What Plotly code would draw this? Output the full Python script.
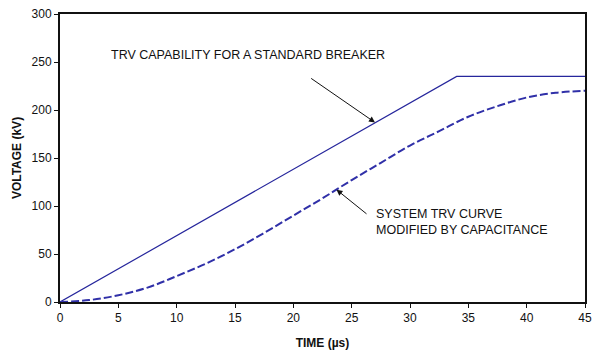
import plotly.graph_objects as go

# Breaker TRV capability envelope (two-parameter: ramp then plateau)
cap_time = [0, 34, 45]
cap_voltage = [0, 235, 235]

# System TRV curve modified by capacitance
sys_time = [0, 2.5, 5, 7.5, 10, 12.5, 15, 17.5, 20, 22.5, 25, 27.5, 30, 32.5, 35, 37.5, 40, 42.5, 45]
sys_voltage = [0, 2, 7, 15, 27, 40, 55, 72, 90, 108, 127, 145, 163, 178, 193, 204, 213, 218, 220]

x_ticks = [0, 5, 10, 15, 20, 25, 30, 35, 40, 45]
y_ticks = [0, 50, 100, 150, 200, 250, 300]

line_color = "#26269C"
font = "Liberation Sans, Arial, sans-serif"

fig = go.Figure()
fig.add_trace(go.Scatter(x=cap_time, y=cap_voltage, mode="lines",
                         line=dict(color=line_color, width=1.2), showlegend=False))
fig.add_trace(go.Scatter(x=sys_time, y=sys_voltage, mode="lines", line_shape="spline",
                         line=dict(color="#3030A8", width=2, dash="8px,3px"), showlegend=False))

fig.add_annotation(x=4.2, y=257, text="TRV CAPABILITY FOR A STANDARD BREAKER",
                   showarrow=False, xanchor="left", yanchor="middle",
                   font=dict(family=font, size=12.5, color="#111"))
fig.add_annotation(x=27, y=187, ax=21.4, ay=234, axref="x", ayref="y",
                   text="", showarrow=True, arrowhead=2, arrowsize=1.2, arrowwidth=1,
                   arrowcolor="#111")
fig.add_annotation(x=26.9, y=83, text="SYSTEM TRV CURVE<br>MODIFIED BY CAPACITANCE",
                   showarrow=False, xanchor="left", yanchor="middle", align="left",
                   font=dict(family=font, size=12.5, color="#111"))
fig.add_annotation(x=23.7, y=117, ax=26.4, ay=90.6, axref="x", ayref="y",
                   text="", showarrow=True, arrowhead=2, arrowsize=1.2, arrowwidth=1,
                   arrowcolor="#111")

fig.update_layout(
    width=595, height=352,
    margin=dict(l=60, r=10, t=14, b=50, autoexpand=False),
    paper_bgcolor="white", plot_bgcolor="white",
    font=dict(family=font, size=12, color="#111"),
)
fig.update_xaxes(range=[0, 45], tickvals=x_ticks, showgrid=False, zeroline=False,
                 showline=True, linecolor="#111", linewidth=2, mirror=True,
                 ticks="outside", ticklen=4, tickcolor="#111", automargin=False,
                 title=dict(text="<b>TIME (µs)</b>", font=dict(size=12), standoff=14))
fig.update_yaxes(range=[0, 300], tickvals=y_ticks, showgrid=False, zeroline=False,
                 showline=True, linecolor="#111", linewidth=2, mirror=True,
                 ticks="outside", ticklen=4, tickcolor="#111", automargin=False,
                 title=dict(text="<b>VOLTAGE (kV)</b>", font=dict(size=12), standoff=7))

fig.write_html("out.html")
